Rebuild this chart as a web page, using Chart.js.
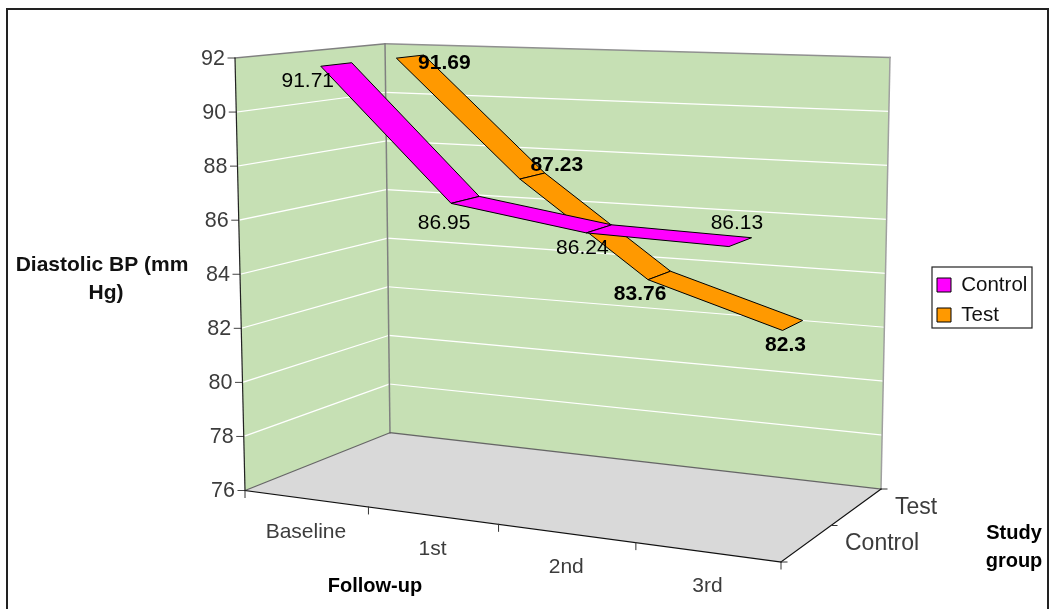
<!DOCTYPE html>
<html>
<head>
<meta charset="utf-8">
<title>Diastolic BP</title>
<style>
    html, body { margin: 0; padding: 0; background: #fff; }
    canvas { display: block; }
</style>
<script src="https://cdn.jsdelivr.net/npm/chart.js@4"></script>
</head>
<body>
<canvas id="bpChart" width="1049" height="609"></canvas>
<script>
const categories = ['Baseline', '1st', '2nd', '3rd'];
const seriesNames = ['Control', 'Test'];
const controlValues = [91.71, 86.95, 86.24, 86.13];
const testValues = [91.69, 87.23, 83.76, 82.3];
const controlLabels = ['91.71', '86.95', '86.24', '86.13'];
const testLabels = ['91.69', '87.23', '83.76', '82.3'];

const FONT = '"Liberation Sans", Arial, sans-serif';
const TICK_COLOR = '#3c3c3c';

// corners of the 3D box as seen on the page (front/back, left/right, bottom/top)
const box = {
    flb: [245, 490.5], frb: [781, 562], blb: [390, 432.7], brb: [881, 489],
    flt: [235, 58], frt: [792, 83], blt: [385, 43.7], brt: [890, 57.5]
};
const PERSPECTIVE = 1.114;

// depth band of each ribbon on the floor (0 front, 1 back)
const ribbonDepth = [[0.155, 0.37], [0.68, 0.87]];
// label position relative to the front edge of the ribbon at each point
const labelOffsets = [
    [[-13, 15], [-7, 20], [-4, 15], [8, -23]],
    [[48, 5], [37, -14], [-8, 14], [3, 15]]
];

function lerp(a, b, t) {
    return [a[0] + (b[0] - a[0]) * t, a[1] + (b[1] - a[1]) * t];
}

// u along categories, v along values, w along depth, all 0..1
function project(u, v, w) {
    const k = u / (u + (1 - u) * PERSPECTIVE);
    const front = lerp(lerp(box.flb, box.frb, k), lerp(box.flt, box.frt, k), v);
    const back = lerp(lerp(box.blb, box.brb, k), lerp(box.blt, box.brt, k), v);
    return lerp(front, back, w);
}

function poly(ctx, pts) {
    ctx.beginPath();
    pts.forEach((p, i) => i ? ctx.lineTo(p[0], p[1]) : ctx.moveTo(p[0], p[1]));
    ctx.closePath();
}

function seg(ctx, a, b, color, width) {
    ctx.strokeStyle = color;
    ctx.lineWidth = width;
    ctx.beginPath();
    ctx.moveTo(a[0], a[1]);
    ctx.lineTo(b[0], b[1]);
    ctx.stroke();
}

function label(ctx, text, x, y, font, color, align) {
    ctx.font = font;
    ctx.fillStyle = color;
    ctx.textAlign = align || 'center';
    ctx.textBaseline = 'middle';
    ctx.fillText(text, x, y);
}

const box3d = {
    id: 'box3d',
    afterLayout(chart) {
        // legend sits at a fixed place
        const legend = chart.legend;
        legend.left = 927.5;
        legend.top = 265.25;
        legend.height = 69.5;
        legend.right = legend.left + legend.width;
        legend.bottom = legend.top + legend.height;
    },
    beforeDraw(chart) {
        // runs before the legend draws itself, so its frame stays behind the items
        const ctx = chart.ctx;
        ctx.save();
        ctx.strokeStyle = '#222';
        ctx.lineWidth = 1.2;
        ctx.strokeRect(932, 267, 100, 61);
        ctx.restore();
    },
    beforeDatasetsDraw(chart) {
        const ctx = chart.ctx;
        const yScale = chart.scales.y;
        const xScale = chart.scales.x;
        const area = chart.chartArea;
        const vOf = val => (area.bottom - yScale.getPixelForValue(val)) / (area.bottom - area.top);
        const uOf = px => (px - area.left) / (area.right - area.left);

        ctx.save();
        ctx.lineCap = 'square';

        // outer frame, cut by the bottom of the picture
        ctx.strokeStyle = '#222';
        ctx.lineWidth = 2;
        ctx.beginPath();
        ctx.moveTo(7, 609);
        ctx.lineTo(7, 9);
        ctx.lineTo(1048, 9);
        ctx.lineTo(1048, 609);
        ctx.stroke();

        // walls and floor
        ctx.fillStyle = '#c6e0b4';
        poly(ctx, [box.flt, box.blt, box.blb, box.flb]);
        ctx.fill();
        poly(ctx, [box.blt, box.brt, box.brb, box.blb]);
        ctx.fill();
        ctx.fillStyle = '#d9d9d9';
        poly(ctx, [box.flb, box.blb, box.brb, box.frb]);
        ctx.fill();

        // value gridlines and tick labels
        yScale.ticks.forEach(t => {
            const v = vOf(t.value);
            const left = lerp(box.flb, box.flt, v);
            if (t.value > yScale.min && t.value < yScale.max) {
                seg(ctx, left, lerp(box.blb, box.blt, v), '#fff', 1.2);
                seg(ctx, lerp(box.blb, box.blt, v), lerp(box.brb, box.brt, v), '#fff', 1.2);
            }
            seg(ctx, [left[0] - 7, left[1]], left, '#444', 1);
            label(ctx, String(t.value), left[0] - 10, left[1] + 1, '21.5px ' + FONT, TICK_COLOR, 'right');
        });

        // box edges
        seg(ctx, box.flt, box.blt, '#808080', 1.5);
        seg(ctx, box.blt, box.brt, '#909090', 1.5);
        seg(ctx, box.blt, box.blb, '#808080', 1.5);
        seg(ctx, box.brt, box.brb, '#a0a0a0', 1.5);
        seg(ctx, box.flb, box.blb, '#666', 1.2);
        seg(ctx, box.blb, box.brb, '#666', 1.2);
        seg(ctx, box.flt, box.flb, '#222', 1.2);
        seg(ctx, box.flb, box.frb, '#111', 1.2);
        seg(ctx, box.frb, box.brb, '#111', 1.2);

        // category ticks and labels along the front edge
        for (let i = 0; i <= categories.length; i++) {
            const p = project(i / categories.length, 0, 0);
            seg(ctx, p, [p[0], p[1] + 7], '#333', 1);
        }
        categories.forEach((name, i) => {
            const p = project(uOf(xScale.getPixelForValue(i)), 0, 0);
            label(ctx, name, p[0], p[1] + 34, '21px ' + FONT, TICK_COLOR);
        });

        // depth ticks and series names along the right edge
        for (let i = 0; i <= seriesNames.length; i++) {
            const p = lerp(box.frb, box.brb, i / seriesNames.length);
            seg(ctx, p, [p[0] + 6, p[1]], '#333', 1);
        }
        seriesNames.forEach((name, i) => {
            const p = lerp(box.frb, box.brb, (i + 0.5) / seriesNames.length);
            label(ctx, name, p[0] + 39, p[1], '23px ' + FONT, TICK_COLOR, 'left');
        });

        // axis titles
        const bold = 'bold 20px ' + FONT;
        label(ctx, 'Diastolic BP (mm', 102, 265, 'bold 21px ' + FONT, '#111');
        label(ctx, 'Hg)', 106, 293, 'bold 21px ' + FONT, '#111');
        label(ctx, 'Follow-up', 375, 586, bold, '#000');
        label(ctx, 'Study', 1014, 533, bold, '#000');
        label(ctx, 'group', 1014, 561, bold, '#000');

        ctx.restore();
    },
    afterDatasetsDraw(chart) {
        const ctx = chart.ctx;
        const area = chart.chartArea;
        const uvw = (el, w) => project(
            (el.x - area.left) / (area.right - area.left),
            (area.bottom - el.y) / (area.bottom - area.top),
            w
        );

        ctx.save();
        ctx.lineJoin = 'round';
        // back series first, the control ribbon passes in front
        [1, 0].forEach(d => {
            const pts = chart.getDatasetMeta(d).data;
            const depth = ribbonDepth[d];
            ctx.fillStyle = chart.data.datasets[d].backgroundColor;
            ctx.strokeStyle = '#000';
            ctx.lineWidth = 1;
            for (let i = 0; i < pts.length - 1; i++) {
                poly(ctx, [
                    uvw(pts[i], depth[0]), uvw(pts[i + 1], depth[0]),
                    uvw(pts[i + 1], depth[1]), uvw(pts[i], depth[1])
                ]);
                ctx.fill();
                ctx.stroke();
            }
        });

        // data labels go on top of both ribbons
        [controlLabels, testLabels].forEach((texts, d) => {
            const pts = chart.getDatasetMeta(d).data;
            const font = (d === 1 ? 'bold ' : '') + '21px ' + FONT;
            texts.forEach((text, i) => {
                const p = uvw(pts[i], ribbonDepth[d][0]);
                const off = labelOffsets[d][i];
                label(ctx, text, p[0] + off[0], p[1] + off[1], font, '#000');
            });
        });
        ctx.restore();
    }
};

new Chart(document.getElementById('bpChart'), {
    type: 'line',
    data: {
        labels: categories,
        datasets: [
            {
                label: seriesNames[0],
                data: controlValues,
                backgroundColor: '#ff00ff',
                borderColor: '#000',
                borderWidth: 1,
                showLine: false,
                pointRadius: 0
            },
            {
                label: seriesNames[1],
                data: testValues,
                backgroundColor: '#ff9900',
                borderColor: '#000',
                borderWidth: 1,
                showLine: false,
                pointRadius: 0
            }
        ]
    },
    options: {
        responsive: false,
        animation: false,
        layout: { padding: { top: 58, bottom: 119, left: 235, right: 0 } },
        scales: {
            x: { display: false, offset: true },
            y: { display: false, min: 76, max: 92, ticks: { stepSize: 2 } }
        },
        plugins: {
            legend: {
                position: 'right',
                labels: {
                    boxWidth: 14,
                    boxHeight: 14,
                    padding: 9.5,
                    color: '#111',
                    font: { size: 20.5, family: FONT }
                }
            },
            tooltip: { enabled: false }
        }
    },
    plugins: [box3d]
});
</script>
</body>
</html>
